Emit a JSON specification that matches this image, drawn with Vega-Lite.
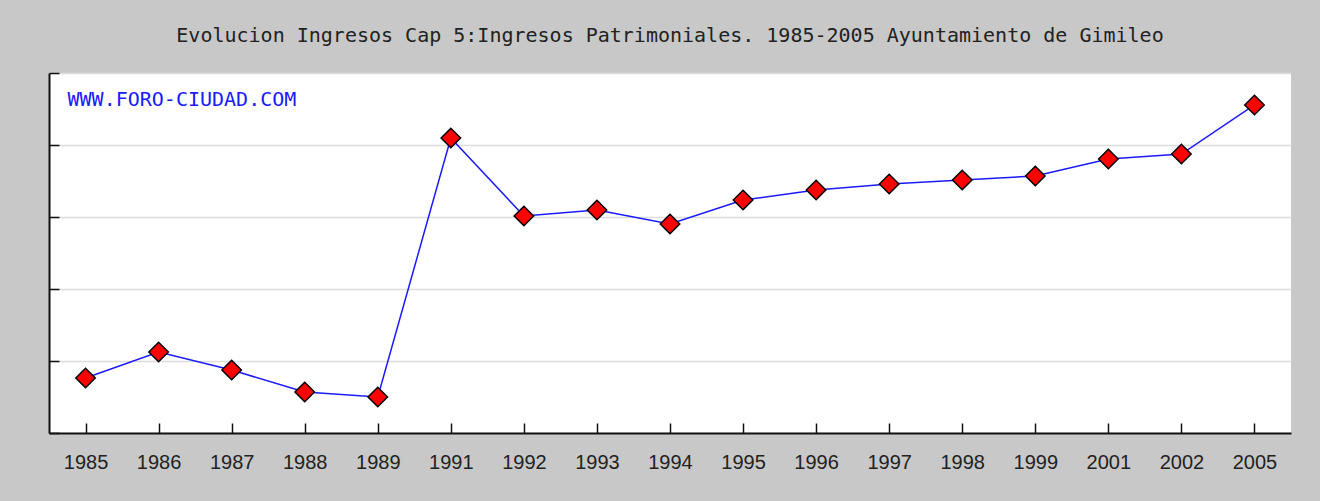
{
  "$schema": "https://vega.github.io/schema/vega-lite/v6.json",
  "autosize": {"type": "none"},
  "width": 1242,
  "height": 360,
  "padding": {"left": 49, "top": 73, "right": 29, "bottom": 68},
  "background": "#c8c8c8",
  "title": {
    "text": "Evolucion Ingresos Cap 5:Ingresos Patrimoniales. 1985-2005 Ayuntamiento de Gimileo",
    "font": "DejaVu Sans Mono",
    "fontSize": 20,
    "fontWeight": "normal",
    "color": "#222222",
    "anchor": "middle",
    "offset": 26
  },
  "config": {
    "view": {"stroke": null, "fill": "white"},
    "axis": {
      "domainColor": "#111111",
      "domainWidth": 2,
      "tickColor": "#111111",
      "tickWidth": 1.5,
      "tickSize": -10,
      "gridColor": "#dcdcdc",
      "gridWidth": 1.5,
      "labelFont": "Liberation Sans",
      "labelFontSize": 20,
      "labelColor": "#222222",
      "title": null
    }
  },
  "data": {
    "values": [
      {"year": "1985", "value": 0.764},
      {"year": "1986", "value": 1.125},
      {"year": "1987", "value": 0.875},
      {"year": "1988", "value": 0.569},
      {"year": "1989", "value": 0.5},
      {"year": "1991", "value": 4.097},
      {"year": "1992", "value": 3.014},
      {"year": "1993", "value": 3.097},
      {"year": "1994", "value": 2.903},
      {"year": "1995", "value": 3.236},
      {"year": "1996", "value": 3.375},
      {"year": "1997", "value": 3.458},
      {"year": "1998", "value": 3.514},
      {"year": "1999", "value": 3.569},
      {"year": "2001", "value": 3.806},
      {"year": "2002", "value": 3.875},
      {"year": "2005", "value": 4.556}
    ]
  },
  "encoding": {
    "x": {
      "field": "year",
      "type": "ordinal",
      "scale": {"type": "point", "padding": 0.5},
      "axis": {"labelAngle": 0, "labelPadding": 29, "grid": false}
    },
    "y": {
      "field": "value",
      "type": "quantitative",
      "scale": {"domain": [0, 5], "nice": false},
      "axis": {"values": [0, 1, 2, 3, 4, 5], "labels": false, "grid": true}
    }
  },
  "layer": [
    {"mark": {"type": "line", "color": "#1a1aff", "strokeWidth": 1.5}},
    {"mark": {"type": "point", "shape": "diamond", "filled": true, "fill": "#ff0000", "stroke": "#000000", "strokeWidth": 1.5, "size": 380, "opacity": 1}},
    {
      "data": {"values": [{"label": "WWW.FORO-CIUDAD.COM", "year": "1985", "value": 4.625}]},
      "mark": {"type": "text", "align": "left", "baseline": "middle", "dx": -18, "font": "DejaVu Sans Mono", "fontSize": 20, "color": "#1a1aff"},
      "encoding": {"text": {"field": "label"}}
    }
  ]
}
